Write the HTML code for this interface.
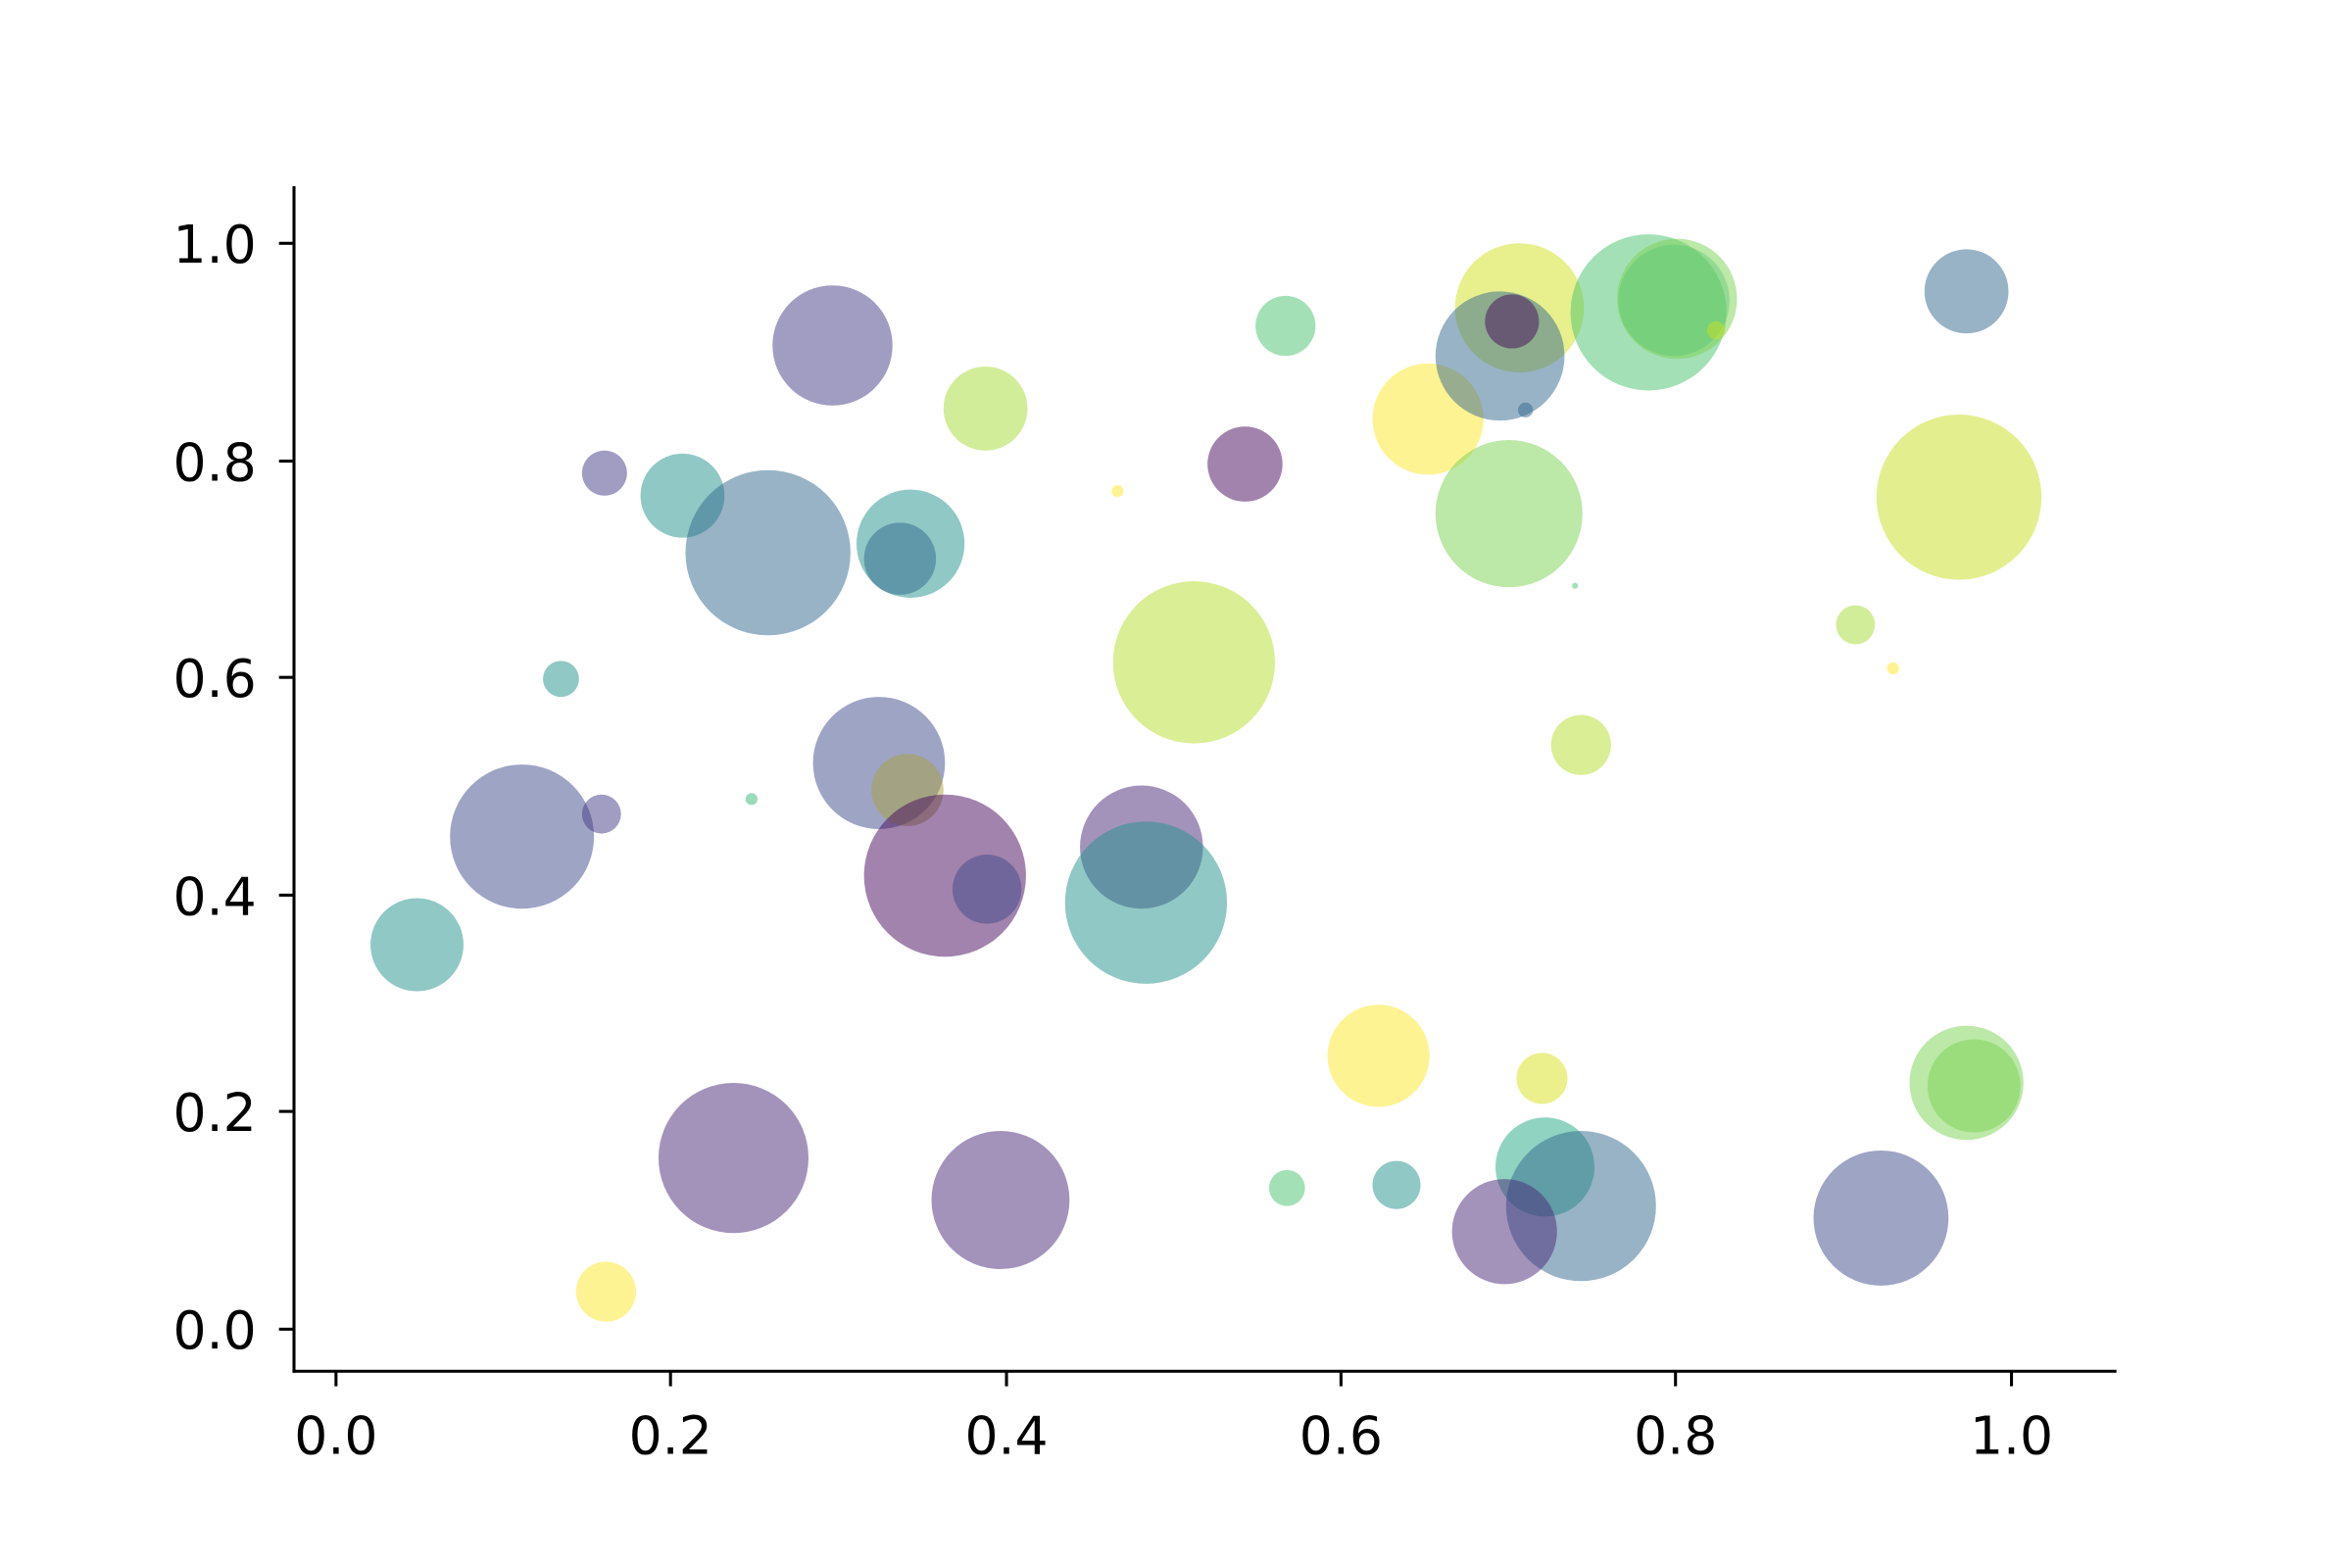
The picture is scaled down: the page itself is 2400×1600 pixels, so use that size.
<!DOCTYPE html>
<html><head><meta charset="utf-8"><style>html,body{margin:0;padding:0;background:#fff}svg{display:block}</style></head>
<body>
<svg width="2400" height="1600" viewBox="0 0 1568 1044" preserveAspectRatio="none" xmlns="http://www.w3.org/2000/svg">
<rect width="1568" height="1044" fill="#fff"/>
<g fill-opacity="0.5">
<circle cx="555" cy="230" r="40" fill="#443a83"/>
<circle cx="403" cy="315" r="15" fill="#443a83"/>
<circle cx="455" cy="330" r="28" fill="#21918c"/>
<circle cx="512" cy="368" r="55" fill="#31688e"/>
<circle cx="607" cy="362" r="36" fill="#21918c"/>
<circle cx="600" cy="372" r="24" fill="#31688e"/>
<circle cx="657" cy="272" r="28" fill="#a5db36"/>
<circle cx="745" cy="327" r="4" fill="#fde725"/>
<circle cx="830" cy="309" r="25" fill="#46085c"/>
<circle cx="857" cy="217" r="20" fill="#4ac16d"/>
<circle cx="952" cy="279" r="37" fill="#fde725"/>
<circle cx="1013" cy="205" r="43" fill="#d0e11c"/>
<circle cx="1000" cy="237" r="43" fill="#31688e"/>
<circle cx="1008" cy="214" r="18" fill="#46085c"/>
<circle cx="1017" cy="273" r="5" fill="#31688e"/>
<circle cx="1099" cy="208" r="52" fill="#4ac16d"/>
<circle cx="1118" cy="199" r="40" fill="#7ad151"/>
<circle cx="1116" cy="200" r="37" fill="#4ac16d" fill-opacity="0.35"/>
<circle cx="1144" cy="220" r="6" fill="#c8e020"/>
<circle cx="1311" cy="194" r="28" fill="#31688e"/>
<circle cx="1306" cy="331" r="55" fill="#c8e020"/>
<circle cx="1006" cy="342" r="49" fill="#7ad151"/>
<circle cx="1050" cy="390" r="2" fill="#4ac16d"/>
<circle cx="1237" cy="416" r="13" fill="#a5db36"/>
<circle cx="1262" cy="445" r="4" fill="#fde725"/>
<circle cx="1054" cy="496" r="20" fill="#b5de2b"/>
<circle cx="796" cy="441" r="54" fill="#b5de2b"/>
<circle cx="374" cy="452" r="12" fill="#21918c"/>
<circle cx="501" cy="532" r="4" fill="#35b779"/>
<circle cx="348" cy="557" r="48" fill="#3e4a89"/>
<circle cx="401" cy="542" r="13" fill="#443a83"/>
<circle cx="586" cy="508" r="44" fill="#3e4a89"/>
<circle cx="605" cy="526" r="24" fill="#a8a040"/>
<circle cx="630" cy="583" r="54" fill="#46085c"/>
<circle cx="658" cy="592" r="23" fill="#3e4a89"/>
<circle cx="761" cy="564" r="41" fill="#482878"/>
<circle cx="764" cy="601" r="54" fill="#21918c"/>
<circle cx="278" cy="629" r="31" fill="#21918c"/>
<circle cx="919" cy="703" r="34" fill="#fde725"/>
<circle cx="1028" cy="718" r="17" fill="#d8e219"/>
<circle cx="1311" cy="721" r="38" fill="#7ad151"/>
<circle cx="1316" cy="723" r="31" fill="#7ad151"/>
<circle cx="489" cy="771" r="50" fill="#482878"/>
<circle cx="667" cy="799" r="46" fill="#482878"/>
<circle cx="858" cy="791" r="12" fill="#4ac16d"/>
<circle cx="931" cy="789" r="16" fill="#21918c"/>
<circle cx="1030" cy="777" r="33" fill="#22a884"/>
<circle cx="1054" cy="803" r="50" fill="#31688e"/>
<circle cx="1003" cy="820" r="35" fill="#482878"/>
<circle cx="1254" cy="811" r="45" fill="#3e4a89"/>
<circle cx="404" cy="860" r="20" fill="#fde725"/>
</g>
<g stroke="#000" stroke-width="2" fill="none">
<line x1="196" y1="124" x2="196" y2="914"/>
<line x1="195" y1="913" x2="1411" y2="913"/>
<line x1="186" y1="162" x2="196" y2="162"/>
<line x1="186" y1="307" x2="196" y2="307"/>
<line x1="186" y1="451" x2="196" y2="451"/>
<line x1="186" y1="596" x2="196" y2="596"/>
<line x1="186" y1="740" x2="196" y2="740"/>
<line x1="186" y1="885" x2="196" y2="885"/>
<line x1="224" y1="913" x2="224" y2="923"/>
<line x1="447" y1="913" x2="447" y2="923"/>
<line x1="671" y1="913" x2="671" y2="923"/>
<line x1="894" y1="913" x2="894" y2="923"/>
<line x1="1117" y1="913" x2="1117" y2="923"/>
<line x1="1341" y1="913" x2="1341" y2="923"/>
</g>
<g font-family="DejaVu Sans, Liberation Sans, sans-serif" font-size="35" fill="#000">
<g text-anchor="end">
<text x="171" y="175">1.0</text>
<text x="171" y="320">0.8</text>
<text x="171" y="464">0.6</text>
<text x="171" y="609">0.4</text>
<text x="171" y="753">0.2</text>
<text x="171" y="898">0.0</text>
</g>
<g text-anchor="middle">
<text x="224" y="968">0.0</text>
<text x="447" y="968">0.2</text>
<text x="671" y="968">0.4</text>
<text x="894" y="968">0.6</text>
<text x="1117" y="968">0.8</text>
<text x="1341" y="968">1.0</text>
</g>
</g>
</svg>
</body></html>
